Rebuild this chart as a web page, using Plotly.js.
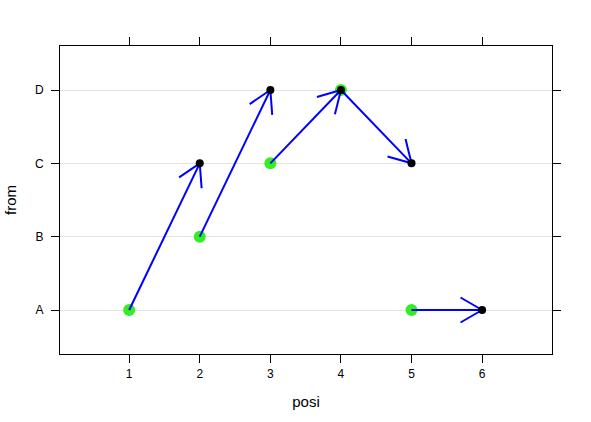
<!DOCTYPE html>
<html><head><meta charset="utf-8">
<script src="https://cdn.plot.ly/plotly-3.0.1.min.js"></script>
<style>html,body{margin:0;padding:0;background:#fff}#plot{width:591px;height:422px}</style>
</head><body><div id="plot"></div>
<script>
const categories = ['A','B','C','D'];
const xStart = [1,2,3,4,5];
const fromCat = ['A','B','C','D','A'];
const xEnd = [2,3,4,5,6];
const toCat = ['C','D','D','C','A'];
const xTicks = [1,2,3,4,5,6];

const W = 591, H = 422;
const margin = {l:59.5, r:39, t:46, b:68};
const xRange = [0.02, 6.99];
const yRange = [0.4, 4.6];
const pw = W - margin.l - margin.r, ph = H - margin.t - margin.b;
const sx = pw / (xRange[1]-xRange[0]);
const sy = ph / (yRange[1]-yRange[0]);
const yIdx = c => categories.indexOf(c) + 1;

const y0 = fromCat.map(yIdx), y1 = toCat.map(yIdx);
const shaftX = [], shaftY = [];
const headL = 25, ang = 30*Math.PI/180;
for (let i=0;i<xStart.length;i++){
  shaftX.push(xStart[i], xEnd[i], null);
  shaftY.push(y0[i], y1[i], null);
  const dx = (xEnd[i]-xStart[i])*sx, dy = (y1[i]-y0[i])*sy;
  const len = Math.hypot(dx,dy), ux = dx/len, uy = dy/len;
  for (const s of [1,-1]){
    const c = Math.cos(s*ang), sn = Math.sin(s*ang);
    const rx = ux*c - uy*sn, ry = ux*sn + uy*c;
    shaftX.push(xEnd[i] - headL*rx/sx, xEnd[i], null);
    shaftY.push(y1[i] - headL*ry/sy, y1[i], null);
  }
}

const traces = [
  {x:xStart, y:y0, mode:'markers', type:'scatter', marker:{color:'#33ee22', size:12}, hoverinfo:'skip'},
  {x:shaftX, y:shaftY, mode:'lines', type:'scatter', line:{color:'#0000ff', width:2}, hoverinfo:'skip'},
  {x:xEnd, y:y1, mode:'markers', type:'scatter', marker:{color:'#000000', size:8}, hoverinfo:'skip'},
  {x:[null], y:[null], xaxis:'x2', yaxis:'y2', type:'scatter', showlegend:false}
];

const tickFont = {family:'Liberation Sans, Arial, sans-serif', size:12, color:'#000'};
const layout = {
  width:W, height:H, margin:margin, showlegend:false,
  paper_bgcolor:'#fff', plot_bgcolor:'#fff',
  font:{family:'Liberation Sans, Arial, sans-serif', color:'#000'},
  xaxis:{range:xRange, tickvals:xTicks, ticktext:xTicks.map(String), ticks:'outside', ticklen:8,
    tickcolor:'#000', tickwidth:1, showgrid:false, zeroline:false, showline:true, linecolor:'#000',
    linewidth:1, mirror:true, tickfont:tickFont, ticklabelstandoff:1,
    title:{text:'posi', font:{size:15}, standoff:16}},
  yaxis:{range:yRange, tickvals:categories.map((c,i)=>i+1), ticktext:categories, ticks:'outside', ticklen:8,
    tickcolor:'#000', tickwidth:1, showgrid:true, gridcolor:'#e3e3e3', gridwidth:1, zeroline:false,
    showline:true, linecolor:'#000', linewidth:1, mirror:true, tickfont:tickFont, ticklabelstandoff:5,
    title:{text:'from', font:{size:15}, standoff:14}},
  xaxis2:{range:xRange, overlaying:'x', side:'top', tickvals:xTicks, showticklabels:false, ticks:'outside',
    ticklen:8, tickcolor:'#000', showgrid:false, zeroline:false},
  yaxis2:{range:yRange, overlaying:'y', side:'right', tickvals:categories.map((c,i)=>i+1), showticklabels:false,
    ticks:'outside', ticklen:8, tickcolor:'#000', showgrid:false, zeroline:false}
};
Plotly.newPlot('plot', traces, layout, {staticPlot:true, displayModeBar:false});
</script></body></html>
